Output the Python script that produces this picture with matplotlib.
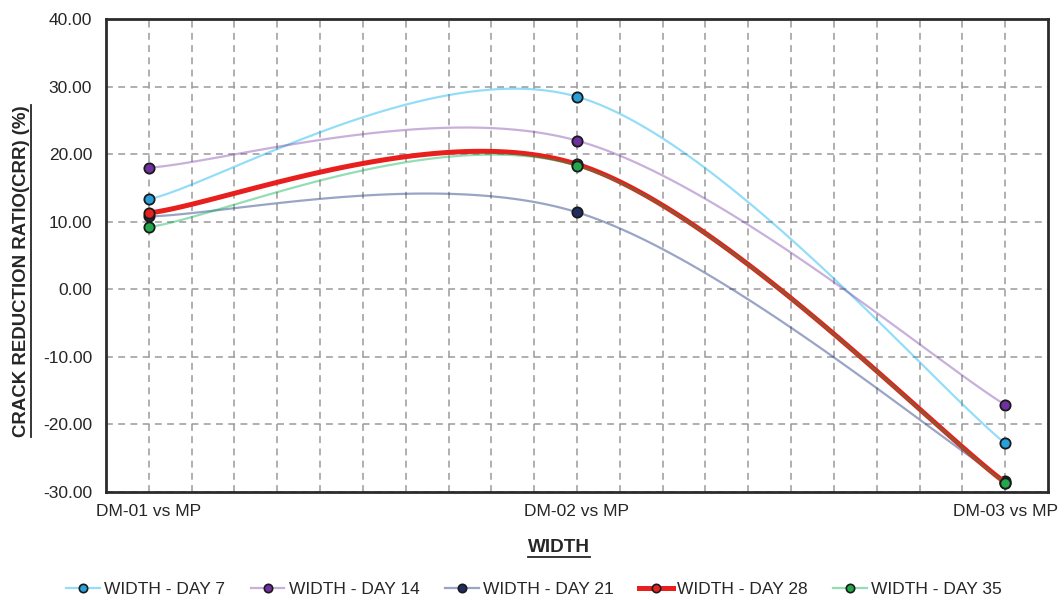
import numpy as np
import matplotlib
matplotlib.use("Agg")
import matplotlib.pyplot as plt
from matplotlib.lines import Line2D
from matplotlib.ticker import FixedLocator

plt.rcParams['font.family'] = ['Liberation Sans', 'DejaVu Sans']

categories = ["DM-01 vs MP", "DM-02 vs MP", "DM-03 vs MP"]
series_names = ["WIDTH - DAY 7", "WIDTH - DAY 14", "WIDTH - DAY 21", "WIDTH - DAY 28", "WIDTH - DAY 35"]
day7 = [13.3, 28.5, -22.8]
day14 = [18.0, 22.0, -17.1]
day21 = [10.8, 11.4, -28.3]
day28 = [11.3, 18.5, -28.6]
day35 = [9.2, 18.3, -28.7]
yticks = [-30, -20, -10, 0, 10, 20, 30, 40]

series = [day7, day14, day21, day28, day35]
line_colors = [(0.0, 0.69, 0.94, 0.42), (0.44, 0.19, 0.63, 0.38), (0.12, 0.22, 0.50, 0.45),
               (0.91, 0.12, 0.11, 1.0), (0.0, 0.69, 0.31, 0.42)]
marker_colors = ["#27a0db", "#7030a0", "#1f2d60", "#e8231f", "#22a84a"]
lws = [1.6, 1.6, 1.6, 3.6, 1.6]


def excel_smooth(xs, ys, n=60):
    P = np.column_stack([xs, ys]).astype(float)
    m = len(P)
    out = []
    for i in range(m - 1):
        p0 = P[max(i - 1, 0)]
        p1 = P[i]
        p2 = P[i + 1]
        p3 = P[min(i + 2, m - 1)]
        c1 = p1 + (p2 - p0) / 6.0
        c2 = p2 - (p3 - p1) / 6.0
        t = np.linspace(0, 1, n)[:, None]
        seg = ((1 - t) ** 3) * p1 + 3 * ((1 - t) ** 2) * t * c1 + 3 * (1 - t) * t ** 2 * c2 + t ** 3 * p2
        out.append(seg if i == 0 else seg[1:])
    out = np.vstack(out)
    return out[:, 0], out[:, 1]


W, H = 1058, 598
fig = plt.figure(figsize=(W / 100, H / 100), dpi=100)
ax = fig.add_axes([106 / W, 1 - 492 / H, (1048 - 106) / W, (492 - 19) / H])

x = np.arange(len(categories))
handles = []
for k, (vals, name) in enumerate(zip(series, series_names)):
    sx, sy = excel_smooth(x, vals)
    ax.plot(sx, sy, color=line_colors[k], lw=lws[k], zorder=3 + 2 * k, solid_capstyle='round')
    ax.plot(x, vals, linestyle='none', marker='o', ms=7.4, mfc=marker_colors[k], mec='#1a1a1a',
            mew=1.3, zorder=4 + 2 * k)
    handles.append(Line2D([0], [0], color=line_colors[k], lw=lws[k], marker='o', ms=6,
                          mfc=marker_colors[k], mec='#1a1a1a', mew=1.2, label=name))

ax.set_xlim(-0.1, 2.1)
ax.set_ylim(-30, 40)
ax.set_yticks(yticks)
ax.set_yticklabels([f"{v:.2f}" for v in yticks])
ax.set_xticks(x)
ax.set_xticklabels(categories)
ax.xaxis.set_minor_locator(FixedLocator(np.round(np.arange(0, 2.01, 0.1), 2)))
ax.tick_params(axis='both', which='both', length=0, labelsize=12.5, colors='#262626')
ax.tick_params(axis='y', pad=10)
ax.tick_params(axis='x', pad=9)

gkw = dict(color='#9a9a9a', linestyle=(0, (4.5, 3.5)), linewidth=1.1)
ax.grid(True, axis='y', which='major', **gkw)
ax.grid(True, axis='x', which='both', **gkw)
ax.set_axisbelow(True)
for s in ax.spines.values():
    s.set_color('#2b2b2b')
    s.set_linewidth(2.0)

ylab = fig.text(21.5 / W, 1 - 271 / H, "CRACK REDUCTION RATIO(CRR) (%)", rotation=90,
                ha='center', va='center', fontsize=13.4, fontweight='bold', color='#262626')
xlab = fig.text(559 / W, 1 - 548 / H, "WIDTH", ha='center', va='center', fontsize=13.6,
                fontweight='bold', color='#262626')

leg = fig.legend(handles=handles, loc='center', bbox_to_anchor=(534 / W, 1 - 589 / H), ncol=5,
                 frameon=False, fontsize=12.5, handlelength=1.95, handletextpad=0.25,
                 columnspacing=1.45, labelcolor='#262626')

fig.canvas.draw()
r = fig.canvas.get_renderer()
bb = ylab.get_window_extent(r)
xu = bb.x1 + 1.0
fig.add_artist(Line2D([xu / W, xu / W], [bb.y0 / H, bb.y1 / H], color='#262626', lw=1.3,
                      transform=fig.transFigure))
bb = xlab.get_window_extent(r)
yu = bb.y0 - 0.5
fig.add_artist(Line2D([bb.x0 / W, bb.x1 / W], [yu / H, yu / H], color='#262626', lw=1.3,
                      transform=fig.transFigure))

fig.savefig("out.png", dpi=100)
